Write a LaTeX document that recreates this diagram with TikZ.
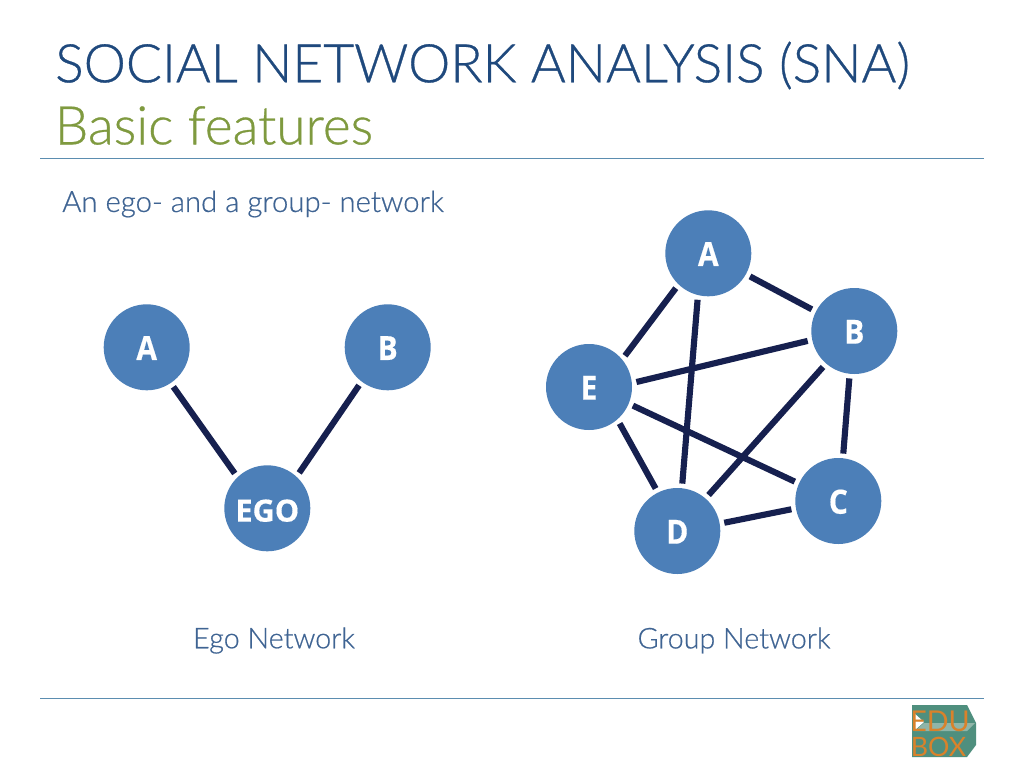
\documentclass[tikz,border=0pt]{standalone}
\usepackage{fontspec}
\setmainfont[UprightFont={* Light},UprightFeatures={FakeBold=0.6}]{Lato}
\newfontfamily\labelfont[BoldFeatures={FakeBold=0.4,FakeStretch=0.9}]{Open Sans}
\newfontfamily\egofont[BoldFeatures={FakeBold=0.4}]{Open Sans}
\newfontfamily\logofont{Lato}
\definecolor{titleblue}{HTML}{1F497D}
\definecolor{titlegreen}{HTML}{7F9A3F}
\definecolor{ruleblue}{HTML}{5B8DB0}
\definecolor{textblue}{HTML}{3F6493}
\definecolor{nodeblue}{HTML}{4C7FB8}
\definecolor{edgenavy}{HTML}{16204F}
\definecolor{logoteal}{HTML}{4F8F7E}
\definecolor{logoband}{HTML}{8FB5A8}
\definecolor{logoorange}{HTML}{D9822B}
\tikzset{
  vertex/.style={circle,fill=nodeblue,minimum size=64.5pt,inner sep=0pt,outer sep=3.5pt,text=white,text height=19pt,text depth=0pt,font=\labelfont\bfseries\fontsize{25}{27}\selectfont},
  edgeline/.style={draw=edgenavy,line width=4.6pt},
  rulerline/.style={draw=ruleblue,line width=0.75pt},
  caption/.style={text=textblue,font=\fontsize{21.5}{24}\selectfont,inner sep=0pt},
  logotext/.style={text=logoorange,inner sep=0pt,anchor=base,text height=13pt,text depth=0pt},
}
\begin{document}
\begin{tikzpicture}[x=0.75pt,y=-0.75pt]
\useasboundingbox (0,0) rectangle (1024,768);
\fill[white] (0,0) rectangle (1024,768);
\draw[rulerline] (40,158) -- (984,158);
\draw[rulerline] (40,698) -- (984,698);
\node[anchor=west,inner sep=0pt,text=titleblue,font=\fontsize{39.95}{44}\selectfont] (title) at (55,65.5) {SOCIAL NETWORK ANALYSIS (SNA)};
\node[anchor=west,inner sep=0pt,text=titlegreen,font=\fontsize{39.9}{44}\selectfont] (subtitle) at (54.5,125.5) {Basic features};
\node[anchor=west,caption,font=\fontsize{22}{24}\selectfont] (intro) at (62,204) {An ego- and a group- network};
\node[caption] (egocap) at (274,640.5) {Ego Network};
\node[caption] (groupcap) at (734,640.5) {Group Network};
% ego network
\node[vertex] (ea) at (146.7,347.3) {A};
\node[vertex] (eb) at (387.7,347.3) {B};
\node[vertex,text height=20pt,font=\egofont\bfseries\fontsize{23}{25}\selectfont] (ee) at (267.3,508.3) {EGO};
\draw[edgeline] (ea.-56.3) -- (ee.133.3);
\draw[edgeline] (eb.233.9) -- (ee.48.1);
% group network
\node[vertex] (a) at (708.3,253.3) {A};
\node[vertex] (b) at (854.3,331) {B};
\node[vertex] (c) at (838.3,501) {C};
\node[vertex] (d) at (677.3,531) {D};
\node[vertex] (e) at (589,387) {E};
\draw[edgeline] (a.-29.2) -- (b.153.8);
\draw[edgeline] (a.227) -- (e.41.6);
\draw[edgeline] (a.257.9) -- (d.84);
\draw[edgeline] (e.6.4) -- (b.192.9);
\draw[edgeline] (e.-23.2) -- (c.156.3);
\draw[edgeline] (e.-50.8) -- (d.117.6);
\draw[edgeline] (d.49.4) -- (b.229.2);
\draw[edgeline] (d.10.7) -- (c.190.8);
\draw[edgeline] (b.264.5) -- (c.84.8);
% logo
\fill[logoteal] (912,705) -- (967,705) -- (976,723) -- (976,745) -- (967,757) -- (912,757) -- cycle;
\fill[white] (914,713) -- (924,722) -- (914,731) -- cycle;
\fill[logoband] (915,731) -- (924,723) -- (975,723) -- (967,731) -- cycle;
\node[logotext,font=\logofont\fontsize{21.5}{22}\selectfont] (logoa) at (940,731.5) {EDU};
\node[logotext,font=\logofont\fontsize{20}{21}\selectfont] (logob) at (938.5,756.5) {BOX};
\end{tikzpicture}
\end{document}
